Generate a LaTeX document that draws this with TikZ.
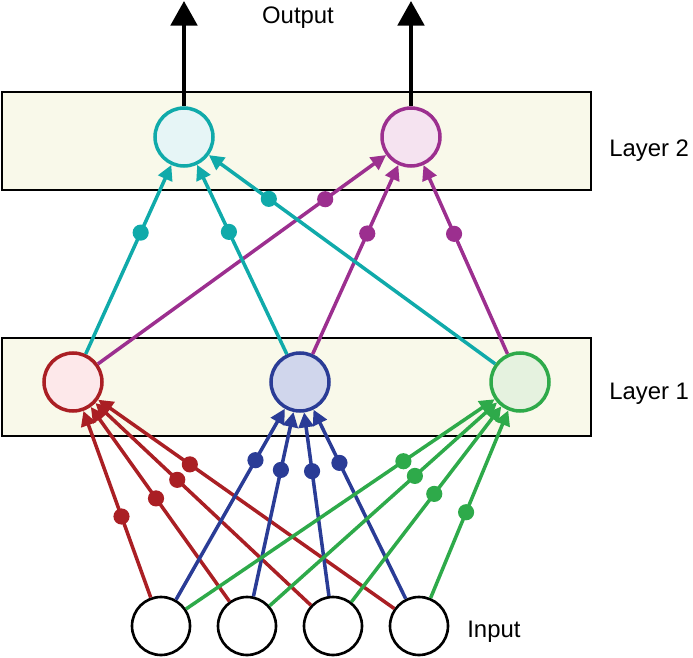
\documentclass[tikz,border=0pt]{standalone}
\usepackage{fontspec}
\setmainfont{Liberation Sans}
\usetikzlibrary{arrows.meta,calc}
\definecolor{redc}{HTML}{AA1F24}
\definecolor{redf}{HTML}{FDE8EA}
\definecolor{bluec}{HTML}{2A3C96}
\definecolor{bluef}{HTML}{D0D6EC}
\definecolor{greenc}{HTML}{2EAA4A}
\definecolor{greenf}{HTML}{E5F2DF}
\definecolor{tealc}{HTML}{10AAAA}
\definecolor{tealf}{HTML}{E6F5F6}
\definecolor{purplec}{HTML}{9C2F8F}
\definecolor{purplef}{HTML}{F5E3F0}
\definecolor{boxc}{HTML}{F9F9EA}
\begin{document}
\begin{tikzpicture}[x=0.02cm,y=-0.02cm,
    neuron/.style={circle,draw,line width=2pt,minimum size=1.16cm,inner sep=0pt},
    layerbox/.style={draw=black,line width=1.5pt,fill=boxc},
    wire/.style={line width=2pt,-{Triangle[length=8.5pt,width=8.5pt]}},
    txt/.style={font=\fontsize{13.6}{16}\selectfont,inner sep=0pt}]
    \useasboundingbox (0,0) rectangle (693,658);
    \draw[layerbox] (2,92) rectangle (591,190);
    \draw[layerbox] (2,338) rectangle (591,436);
    \node[neuron,draw=tealc,fill=tealf] (out1) at (184,137) {};
    \node[neuron,draw=purplec,fill=purplef] (out2) at (411,137) {};
    \node[neuron,draw=redc,fill=redf] (hid1) at (73,382) {};
    \node[neuron,draw=bluec,fill=bluef] (hid2) at (300,382) {};
    \node[neuron,draw=greenc,fill=greenf] (hid3) at (520,382) {};
    \foreach \i/\x in {1/161,2/247,3/333,4/419}
      \node[neuron,draw=black,fill=white,line width=1.5pt] (in\i) at (\x,626) {};
    \coordinate (top1) at (184,1);
    \coordinate (top2) at (411,1);
    \draw[line width=2.3pt,-{Triangle[length=14pt,width=15pt]}] (out1) -- (top1);
    \draw[line width=2.3pt,-{Triangle[length=14pt,width=15pt]}] (out2) -- (top2);
    \node[txt] (outlbl) at (298,18) {Output};
    \node[txt,anchor=west] (l2lbl) at (609,151) {Layer 2};
    \node[txt,anchor=west] (l1lbl) at (609,394) {Layer 1};
    \node[txt,anchor=west] (inlbl) at (467,632) {Input};
    \foreach \i in {1,...,4} {
      \draw[wire,redc] (in\i) -- (hid1);
      \fill[redc] ($(hid1)!2.86cm!(in\i)$) circle (4.6pt);
    }
    \foreach \i in {1,...,4} {
      \draw[wire,bluec] (in\i) -- (hid2);
      \fill[bluec] ($(hid2)!1.8cm!(in\i)$) circle (4.6pt);
    }
    \foreach \i in {1,...,4} {
      \draw[wire,greenc] (in\i) -- (hid3);
      \fill[greenc] ($(hid3)!2.82cm!(in\i)$) circle (4.6pt);
    }
    \foreach \i in {1,2,3} {
      \draw[wire,tealc] (hid\i) -- (out1);
      \fill[tealc] ($(out1)!2.1cm!(hid\i)$) circle (4.6pt);
      \draw[wire,purplec] (hid\i) -- (out2);
      \fill[purplec] ($(out2)!2.12cm!(hid\i)$) circle (4.6pt);
    }
\end{tikzpicture}
\end{document}
